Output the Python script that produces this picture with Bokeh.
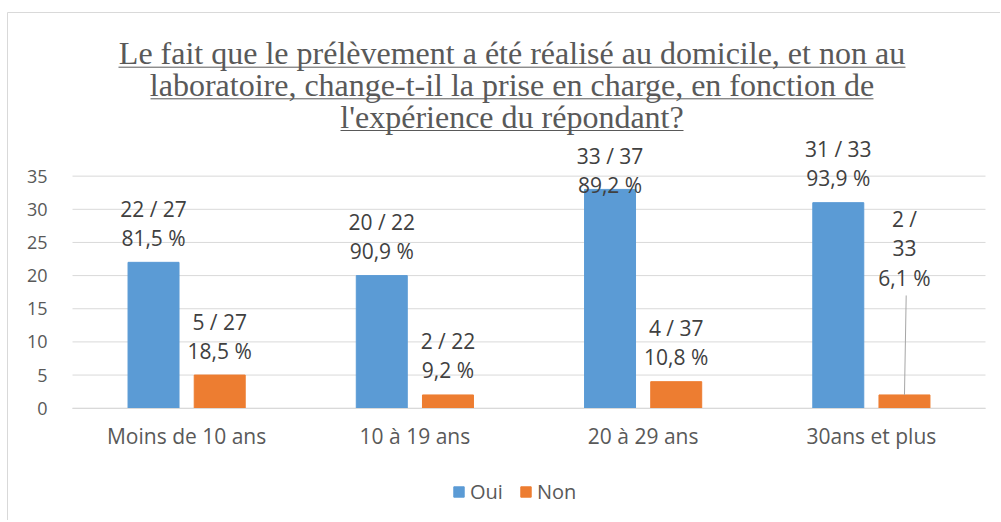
from bokeh.plotting import figure
from bokeh.models import Range1d, FixedTicker, Legend, LegendItem, ColumnDataSource
from bokeh.core.properties import value
from bokeh.embed import file_html
from bokeh.resources import INLINE

# ---- data ----
categories = ["Moins de 10 ans", "10 à 19 ans", "20 à 29 ans", "30ans et plus"]
oui = [22, 20, 33, 31]
non = [5, 2, 4, 2]
totals = [27, 22, 37, 33]
oui_pct = ["81,5 %", "90,9 %", "89,2 %", "93,9 %"]
non_pct = ["18,5 %", "9,2 %", "10,8 %", "6,1 %"]
y_ticks = [0, 5, 10, 15, 20, 25, 30, 35]
title_lines = [
    "Le fait que le prélèvement a été réalisé au domicile, et non au",
    "laboratoire, change-t-il la prise en charge, en fonction de",
    "l'expérience du répondant?",
]

# ---- layout (pixel geometry -> data coordinates) ----
W, H = 1000, 520
X0_PX, X_UNIT = 72.0, 228.25      # x=0 at px 72, one category = 228.25 px
Y0_PX, Y_UNIT = 407.7, 6.63       # y=0 at px 407.7, one unit = 6.63 px


def xd(px):
    return (px - X0_PX) / X_UNIT


def yd(py):
    return (Y0_PX - py) / Y_UNIT


OFF = 0.145
BW = 0.2234
oui_label_y = [27.9, 25.9, 35.9, 36.9]
non_label_y = [10.8, 8.0, 9.9, 24.1]
leader_top = 17.0
title_mid_px = [52.8, 84.5, 116.3]
underline_px = [66.7, 98.3, 130.0]
underline_x_px = [(118, 905), (150, 873), (340, 683)]
title_center_px = 511.5

OUI_C = "#5B9BD5"
NON_C = "#ED7D31"
GRID_C = "#D9D9D9"
SANS = "Open Sans"

xc = [i + 0.5 for i in range(len(categories))]
oui_text = [f"{o} / {t}\n{p}" for o, t, p in zip(oui, totals, oui_pct)]
non_text = []
for i, (n, t, p) in enumerate(zip(non, totals, non_pct)):
    non_text.append(f"{n} /\n{t}\n{p}" if i == 3 else f"{n} / {t}\n{p}")

src = ColumnDataSource(dict(x_oui=[x - OFF for x in xc], x_non=[x + OFF for x in xc],
                            oui=oui, non=non, oui_text=oui_text, non_text=non_text,
                            oui_ly=oui_label_y, non_ly=non_label_y))

p = figure(x_range=Range1d(xd(0), xd(W)), y_range=Range1d(yd(H), yd(0)),
           width=W, height=H, output_backend="svg", toolbar_location=None,
           min_border=0)
p.outline_line_color = None
p.xgrid.grid_line_color = None
p.ygrid.grid_line_color = None

# y axis (drawn at x=0, inside the canvas)
p.yaxis.fixed_location = 0
p.yaxis.ticker = FixedTicker(ticks=y_ticks)
p.yaxis.axis_line_color = None
p.yaxis.major_tick_line_color = None
p.yaxis.minor_tick_line_color = None
p.yaxis.major_label_standoff = 19
p.yaxis.major_label_text_font = SANS
p.yaxis.major_label_text_font_size = "18px"
p.yaxis.major_label_text_color = "#595959"

# x axis (drawn at y=0)
p.xaxis.fixed_location = 0
p.xaxis.bounds = (0, len(categories))
p.xaxis.ticker = FixedTicker(ticks=xc)
p.xaxis.major_label_overrides = {x: c for x, c in zip(xc, categories)}
p.xaxis.axis_line_color = GRID_C
p.xaxis.major_tick_line_color = None
p.xaxis.minor_tick_line_color = None
p.xaxis.major_label_standoff = 8
p.xaxis.major_label_text_font = SANS
p.xaxis.major_label_text_font_size = "21px"
p.xaxis.major_label_text_color = "#595959"

# horizontal gridlines across the plot area only
p.segment(x0=[0] * len(y_ticks), x1=[len(categories)] * len(y_ticks),
          y0=y_ticks, y1=y_ticks, line_color=GRID_C, line_width=1)

r_oui = p.vbar(x="x_oui", top="oui", width=BW, source=src,
               fill_color=OUI_C, line_color=OUI_C)
r_non = p.vbar(x="x_non", top="non", width=BW, source=src,
               fill_color=NON_C, line_color=NON_C)

# leader line for the last orange label
p.segment(x0=[xc[3] + OFF], y0=[non[3]], x1=[xd(905.7)], y1=[leader_top],
          line_color="#A6A6A6", line_width=1)

for xcol, ycol, tcol in [("x_oui", "oui_ly", "oui_text"), ("x_non", "non_ly", "non_text")]:
    p.text(x=xcol, y=ycol, text=tcol, source=src,
           text_font=value(SANS), text_font_size="21px", text_color="#404040",
           text_align="center", text_baseline="middle", text_line_height=1.04)

# title (underlined)
p.text(x=[xd(title_center_px)] * 3, y=[yd(v) for v in title_mid_px], text=title_lines,
       text_font=value("Liberation Serif"), text_font_size="32px", text_color="#595959",
       text_align="center", text_baseline="middle")
p.segment(x0=[xd(a) for a, b in underline_x_px], x1=[xd(b) for a, b in underline_x_px],
          y0=[yd(v) for v in underline_px], y1=[yd(v) for v in underline_px],
          line_color="#595959", line_width=1)

# chart border (left and top)
p.segment(x0=[xd(7), xd(7)], y0=[yd(12), yd(12)], x1=[xd(7), xd(W)], y1=[yd(H), yd(12)],
          line_color=GRID_C, line_width=1)

legend = Legend(items=[LegendItem(label="Oui", renderers=[r_oui]),
                       LegendItem(label="Non", renderers=[r_non])],
                orientation="horizontal", location=(452, 15),
                label_text_font=SANS, label_text_font_size="20px",
                label_text_color="#595959", glyph_width=13, glyph_height=13,
                label_standoff=5, spacing=16, padding=0, margin=0,
                border_line_color=None, background_fill_alpha=0)
p.add_layout(legend, "center")

open("out.html", "w").write(file_html(p, INLINE))
